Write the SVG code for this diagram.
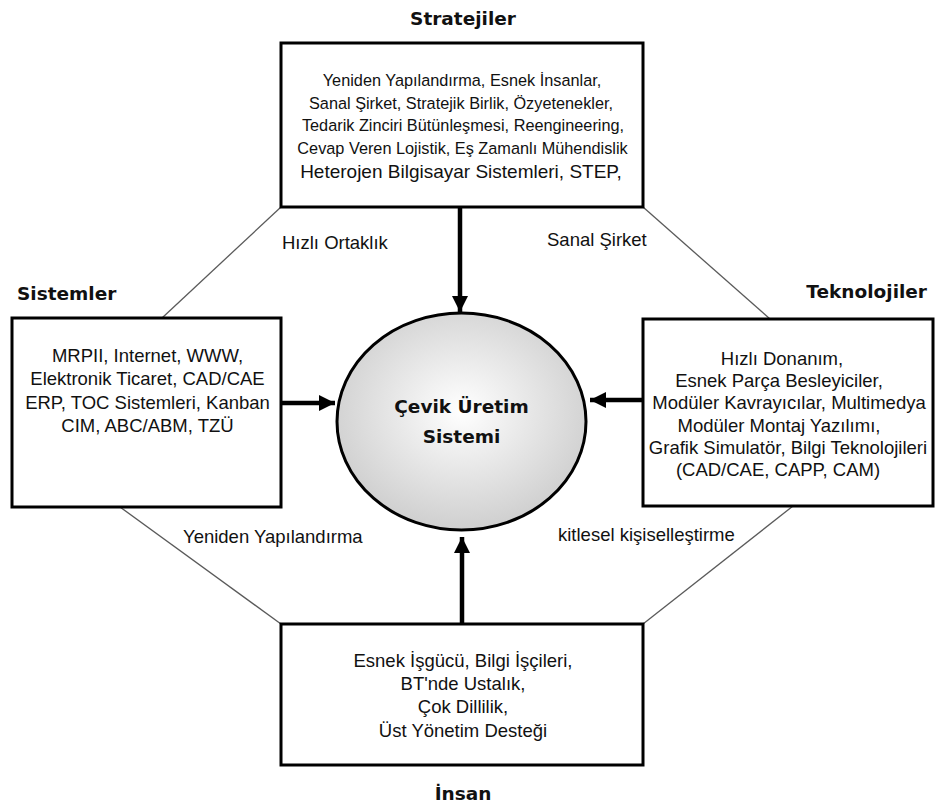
<svg xmlns="http://www.w3.org/2000/svg" width="935" height="807" viewBox="0 0 935 807">
<style>
.box{fill:#fff;stroke:#000;stroke-width:3}
.title{font-family:"DejaVu Sans",Verdana,sans-serif;font-weight:bold;font-size:18.5px;fill:#111}
.t{font-family:"Liberation Sans",Arial,sans-serif;font-size:18.5px;fill:#111;text-anchor:middle}
.ts{font-size:16.3px}
.lbl{font-family:"Liberation Sans",Arial,sans-serif;font-size:18.5px;fill:#111}
.link{stroke:#5a5a5a;stroke-width:1.3;fill:none}
.arrow{stroke:#000;stroke-width:4.5;fill:none;marker-end:url(#ah)}
.ctr{font-family:"DejaVu Sans",Verdana,sans-serif;font-weight:bold;font-size:18.5px;fill:#111;text-anchor:middle}
</style>
<defs>
<marker id="ah" markerUnits="userSpaceOnUse" markerWidth="17" markerHeight="17" refX="16" refY="8" orient="auto">
<path d="M0,0 L16,8 L0,16 z" fill="#000"/>
</marker>
<radialGradient id="g" cx="50%" cy="45%" r="55%">
<stop offset="0" stop-color="#ffffff"/>
<stop offset="1" stop-color="#cfcfcf"/>
</radialGradient>
</defs>
<rect width="935" height="807" fill="#fff"/>
<g id="connectors">
<line class="link" x1="281" y1="207" x2="162" y2="318"/>
<line class="link" x1="643" y1="207" x2="770" y2="319"/>
<line class="link" x1="120" y1="507" x2="281" y2="624"/>
<line class="link" x1="793" y1="506" x2="643" y2="624"/>
<line class="arrow" x1="460" y1="207" x2="460" y2="312"/>
<line class="arrow" x1="281" y1="403" x2="335" y2="403"/>
<line class="arrow" x1="642" y1="400" x2="590" y2="400"/>
<line class="arrow" x1="462" y1="624" x2="462" y2="537"/>
<text class="lbl" x="282" y="248.5">Hızlı Ortaklık</text>
<text class="lbl" x="547" y="246">Sanal Şirket</text>
<text class="lbl" x="183" y="542.5">Yeniden Yapılandırma</text>
<text class="lbl" x="558" y="541">kitlesel kişiselleştirme</text>
</g>
<g id="stratejiler">
<text class="title" x="463" y="25" text-anchor="middle">Stratejiler</text>
<rect class="box" x="281" y="43" width="362" height="164"/>
<text class="t ts" x="462" y="86">Yeniden Yapılandırma, Esnek İnsanlar,</text>
<text class="t ts" x="461" y="108.5">Sanal Şirket, Stratejik Birlik, Özyetenekler,</text>
<text class="t ts" x="463" y="131">Tedarik Zinciri Bütünleşmesi, Reengineering,</text>
<text class="t ts" x="462.5" y="154">Cevap Veren Lojistik, Eş Zamanlı Mühendislik</text>
<text class="t" x="461" y="178" style="font-size:19px">Heterojen Bilgisayar Sistemleri, STEP,</text>
</g>
<g id="sistemler">
<text class="title" x="17" y="300">Sistemler</text>
<rect class="box" x="12" y="318" width="269" height="189"/>
<text class="t" x="147.5" y="361.5">MRPII, Internet, WWW,</text>
<text class="t" x="147.5" y="385">Elektronik Ticaret, CAD/CAE</text>
<text class="t" x="147.5" y="408.5">ERP, TOC Sistemleri, Kanban</text>
<text class="t" x="147.5" y="431.5">CIM, ABC/ABM, TZÜ</text>
</g>
<g id="teknolojiler">
<text class="title" x="927" y="298" text-anchor="end">Teknolojiler</text>
<rect class="box" x="643" y="319" width="290" height="187"/>
<text class="t" x="782" y="365">Hızlı Donanım,</text>
<text class="t" x="779" y="387">Esnek Parça Besleyiciler,</text>
<text class="t" x="789" y="409">Modüler Kavrayıcılar, Multimedya</text>
<text class="t" x="779" y="432">Modüler Montaj Yazılımı,</text>
<text class="t" x="788" y="454">Grafik Simulatör, Bilgi Teknolojileri</text>
<text class="t" x="778" y="476">(CAD/CAE, CAPP, CAM)</text>
</g>
<g id="insan">
<rect class="box" x="281" y="624" width="362" height="141"/>
<text class="t" x="463" y="667">Esnek İşgücü, Bilgi İşçileri,</text>
<text class="t" x="463" y="690">BT'nde Ustalık,</text>
<text class="t" x="463" y="713">Çok Dillilik,</text>
<text class="t" x="463" y="737">Üst Yönetim Desteği</text>
<text class="title" x="463" y="800" text-anchor="middle">İnsan</text>
</g>
<g id="cevik">
<ellipse cx="461.5" cy="421.5" rx="124.5" ry="108.5" fill="url(#g)" stroke="#000" stroke-width="3"/>
<text class="ctr" x="461.5" y="413">Çevik Üretim</text>
<text class="ctr" x="461.5" y="443">Sistemi</text>
</g>
</svg>
